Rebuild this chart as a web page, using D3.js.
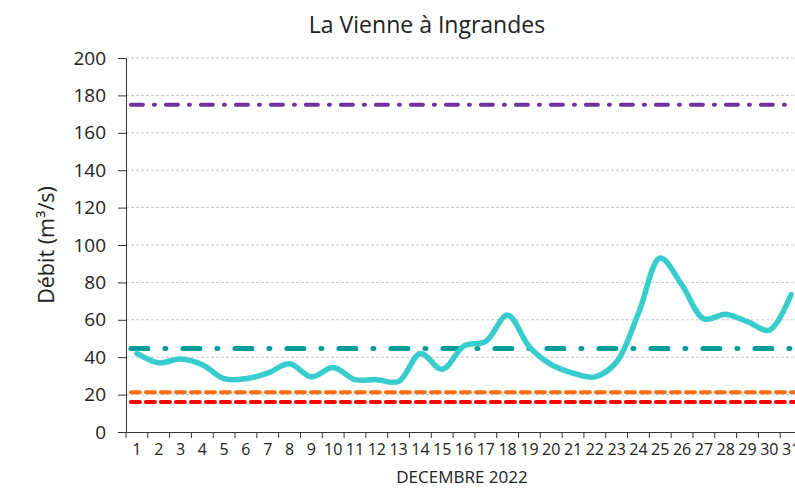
<!DOCTYPE html>
<html>
<head>
<meta charset="utf-8">
<script src="https://cdn.jsdelivr.net/npm/d3@7"></script>
<style>
  body { margin: 0; background: #fff; }
  svg { display: block; font-family: "Open Sans", sans-serif; }
</style>
</head>
<body>
<svg id="chart"></svg>
<script>
// valeurs
const days = d3.range(1, 32).map(String);
const debit = [42, 37, 39, 36, 28.5, 28.5, 31.5, 36.5, 29.5, 34.5, 28, 28, 27, 42, 33.5,
               46, 48.5, 62.5, 45.5, 36, 31.5, 29.5, 37.5, 63.5, 93, 78.5, 60.5, 63, 59, 54.5, 73.5];
const yTicks = [0, 20, 40, 60, 80, 100, 120, 140, 160, 180, 200];
const seuils = [
  { name: 'purple', value: 175, color: '#7030a0', width: 4, dash: '12,11,1,11' },
  { name: 'teal', value: 44.7, color: '#009c99', width: 5, dash: '17,17,1,17' },
  { name: 'orange', value: 21.2, color: '#ff6f0f', width: 4, dash: '9,6' },
  { name: 'red', value: 16, color: '#ff0000', width: 4, dash: '9,6' }
];

document.addEventListener('DOMContentLoaded', () => {
    const width = 795;
    const height = 488;
    const margin = { top: 58, right: -7, bottom: 56, left: 126 };

    const svg = d3.select('#chart')
        .attr('width', width)
        .attr('height', height);

    const x = d3.scaleBand().domain(days).range([margin.left, width - margin.right]);
    const y = d3.scaleLinear().domain([0, 200]).range([height - margin.bottom, margin.top]);

    // grille
    svg.append('g')
        .selectAll('line')
        .data(yTicks.slice(1))
        .join('line')
        .attr('x1', margin.left).attr('x2', width)
        .attr('y1', d => y(d)).attr('y2', d => y(d))
        .attr('stroke', '#c8c8c8')
        .attr('stroke-dasharray', '3,2');

    // axe y
    const yAxis = d3.axisLeft(y).tickValues(yTicks).tickSize(8).tickPadding(12).tickSizeOuter(0);
    svg.append('g')
        .attr('transform', `translate(${margin.left},0)`)
        .call(yAxis)
        .call(g => g.select('.domain').attr('stroke', '#333'))
        .call(g => g.selectAll('.tick line').attr('stroke', '#333'))
        .call(g => g.selectAll('text').attr('font-size', 19).attr('fill', '#222').attr('font-family', 'Open Sans'));

    // axe x
    const xAxis = d3.axisBottom(x).tickSize(0).tickPadding(12);
    const gx = svg.append('g')
        .attr('transform', `translate(0,${y(0)})`)
        .call(xAxis)
        .call(g => g.select('.domain').attr('stroke', '#333'))
        .call(g => g.selectAll('text').attr('font-size', 16).attr('fill', '#222').attr('font-family', 'Open Sans'));
    gx.selectAll('.sep')
        .data(days)
        .join('line')
        .attr('class', 'sep')
        .attr('x1', d => x(d)).attr('x2', d => x(d))
        .attr('y1', 0).attr('y2', 6)
        .attr('stroke', '#333');

    // seuils
    svg.append('g')
        .selectAll('line')
        .data(seuils)
        .join('line')
        .attr('x1', x(days[0]) + x.bandwidth() / 2 - 6)
        .attr('x2', width)
        .attr('y1', d => y(d.value)).attr('y2', d => y(d.value))
        .attr('stroke', d => d.color)
        .attr('stroke-width', d => d.width)
        .attr('stroke-dasharray', d => d.dash)
        .attr('stroke-linecap', 'round');

    // débit
    const line = d3.line()
        .x((d, i) => x(days[i]) + x.bandwidth() / 2)
        .y(d => y(d))
        .curve(d3.curveCatmullRom.alpha(0.5));

    svg.append('path')
        .datum(debit)
        .attr('d', line)
        .attr('fill', 'none')
        .attr('stroke', '#38cccc')
        .attr('stroke-width', 5.5)
        .attr('stroke-linecap', 'round')
        .attr('stroke-linejoin', 'round');

    // titres
    svg.append('text')
        .attr('x', 427).attr('y', 33)
        .attr('text-anchor', 'middle')
        .attr('font-size', 23)
        .attr('fill', '#222')
        .text('La Vienne à Ingrandes');

    svg.append('text')
        .attr('transform', `translate(54,${(y(0) + y(200)) / 2}) rotate(-90)`)
        .attr('text-anchor', 'middle')
        .attr('font-size', 21.5)
        .attr('fill', '#222')
        .text('Débit (m³/s)');

    svg.append('text')
        .attr('x', 462).attr('y', 483)
        .attr('text-anchor', 'middle')
        .attr('font-size', 17)
        .attr('fill', '#222')
        .text('DECEMBRE 2022');
});
</script>
</body>
</html>
